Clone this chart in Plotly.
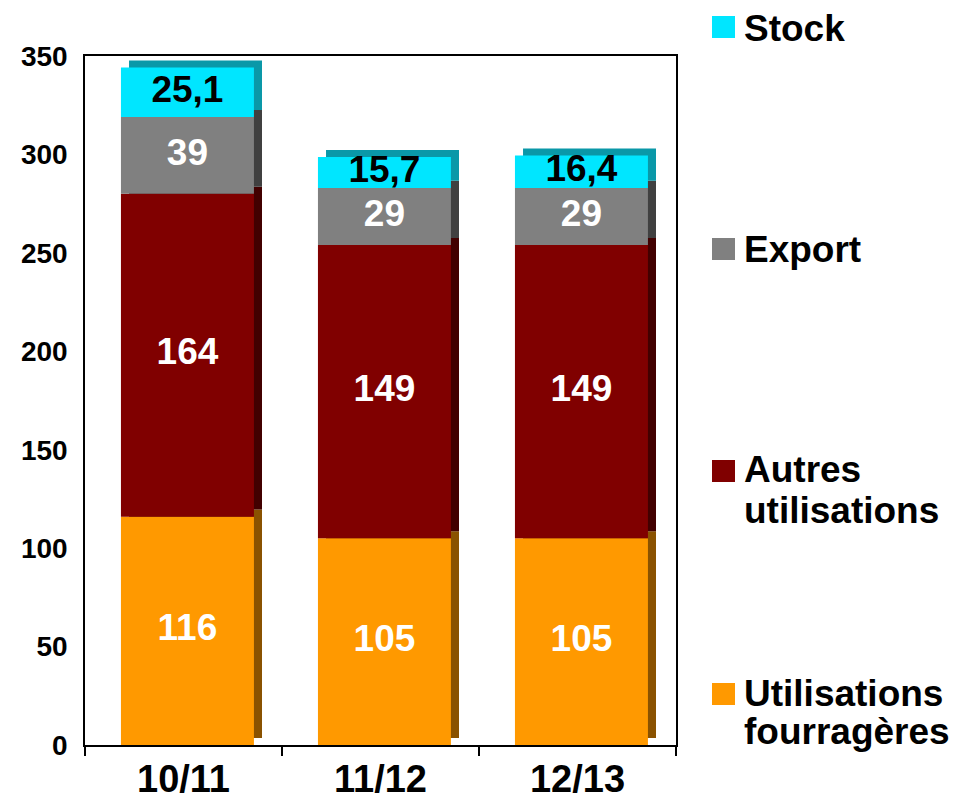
import numpy as np
import plotly.graph_objects as go

categories = ["10/11", "11/12", "12/13"]
fourrageres = [116, 105, 105]
autres = [164, 149, 149]
export = [39, 29, 29]
stock = [25.1, 15.7, 16.4]

# name, values, front colour, side colour, label colour
series = [
    (["Utilisations", "fourragères"], fourrageres, "#FF9900", "#8A5200", "white"),
    (["Autres", "utilisations"], autres, "#800000", "#420000", "white"),
    (["Export"], export, "#808080", "#404040", "white"),
    (["Stock"], stock, "#00E6FF", "#0A98A8", "black"),
]

FONT = "Liberation Sans, Arial, sans-serif"
W = 0.675      # bar width (category units)
SHIFT = 0.02   # front face shifted right
DX = 0.041     # depth in x
DY = 3.6       # depth in y (value units)

pos = np.arange(len(categories))
bases = []
acc = np.zeros(len(categories))
for s in series:
    bases.append(acc.copy())
    acc = acc + np.array(s[1])

fig = go.Figure()

# back faces (give the 3D side / top)
for (name, vals, col, side, tcol), b in zip(series, bases):
    fig.add_trace(go.Bar(x=pos, y=vals, base=b + DY, width=W, offset=-W / 2 + SHIFT + DX,
                         marker=dict(color=side, line=dict(width=0)),
                         hoverinfo="skip", showlegend=False))

# front faces
for (name, vals, col, side, tcol), b in zip(series, bases):
    fig.add_trace(go.Bar(x=pos, y=vals, base=b, width=W, offset=-W / 2 + SHIFT,
                         marker=dict(color=col, line=dict(width=0)),
                         name=" ".join(name), showlegend=False))

# value labels
for (name, vals, col, side, tcol), b in zip(series, bases):
    txt = [str(v).replace(".", ",") for v in vals]
    fig.add_trace(go.Scatter(x=pos + SHIFT, y=b + np.array(vals) / 2, mode="text", text=txt,
                             textfont=dict(family=FONT, size=37, color=tcol, weight="bold"),
                             hoverinfo="skip", showlegend=False))

# page body has an 8px margin, so figure coords = page coords - 8
OFF = 8
L, T, PW, PH = 85 - OFF, 56 - OFF, 591, 689


def px(x):
    return (x - OFF - L) / PW


def py(y):
    return (T + PH - (y - OFF)) / PH


legend_rows = [(16, [28]), (238, [250]), (460, [470, 510]), (683, [693, 731])]
shapes = []
annotations = []
for (name, vals, col, side, tcol), (sq, lines) in zip(series[::-1], legend_rows):
    shapes.append(dict(type="rect", xref="paper", yref="paper",
                       x0=px(712), x1=px(735), y0=py(sq + 22), y1=py(sq),
                       fillcolor=col, line=dict(width=0)))
    for txt, ly in zip(name, lines):
        annotations.append(dict(xref="paper", yref="paper", x=px(743), y=py(ly),
                                xanchor="left", yanchor="middle", showarrow=False,
                                borderpad=0,
                                text=txt, font=dict(family=FONT, size=37, color="black",
                                                    weight="bold")))

fig.update_layout(
    width=979, height=811,
    margin=dict(l=L, r=979 - L - PW, t=T, b=811 - T - PH),
    barmode="overlay",
    plot_bgcolor="white", paper_bgcolor="white",
    shapes=shapes, annotations=annotations,
    font=dict(family=FONT, color="black"),
    xaxis=dict(range=[-0.5, 2.5], tickvals=pos, ticktext=categories, ticks="",
               showgrid=False, zeroline=False, showline=True, mirror=True,
               linecolor="black", linewidth=1.5, automargin=False,
               tickfont=dict(family=FONT, size=38, weight="bold"),
               ticklabelstandoff=0,
               minor=dict(tickvals=[-0.5, 0.5, 1.5, 2.5], ticks="outside", ticklen=9,
                          tickcolor="black", tickwidth=1.5)),
    yaxis=dict(range=[0, 350], tickvals=list(range(0, 351, 50)), ticks="",
               showgrid=False, zeroline=False, showline=True, mirror=True,
               linecolor="black", linewidth=1.5, automargin=False,
               tickfont=dict(family=FONT, size=28, weight="bold"),
               ticklabelstandoff=10),
)

fig.write_html("out.html")
